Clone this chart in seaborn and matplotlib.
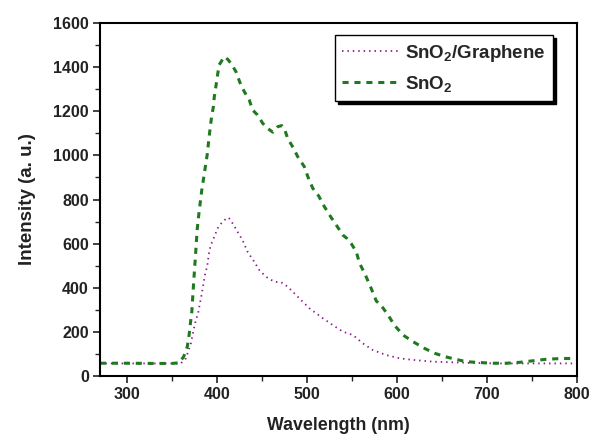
import matplotlib
matplotlib.use("Agg")
import matplotlib.pyplot as plt
import seaborn as sns
import pandas as pd
from matplotlib.ticker import MultipleLocator

# SnO2 (green dashed)
sno2_x = [270, 300, 330, 350, 358, 363, 367, 369, 370.5, 372, 374, 376, 378, 380, 383, 386,
          389, 392, 394, 396, 397, 399, 400.6, 402.4, 408, 412, 415.5, 421, 425.5, 430.3,
          435.9, 439.5, 445, 450.7, 456, 462, 467.4, 472, 475, 478.5, 484.5, 489.7, 497,
          501, 506.4, 513, 519.4, 526.8, 534.2, 539.8, 544, 549, 554.7, 558.4, 564, 570,
          577, 582, 590, 597, 606.6, 617.7, 630.7, 642, 653, 666, 677, 692, 707, 722, 736,
          751, 766, 781, 800]
sno2_y = [58, 58, 57, 57, 60, 88, 133, 186, 240, 290, 420, 540, 665, 740, 840, 920,
          1000, 1110, 1175, 1221, 1266, 1319, 1364, 1410, 1447, 1435, 1417, 1380, 1330, 1289,
          1251, 1206, 1183, 1146, 1123, 1105, 1130, 1135, 1120, 1077, 1036, 994, 949,
          903, 851, 816, 767, 719, 674, 639, 625, 601, 564, 511, 466, 410,
          340, 322, 277, 231, 186, 156, 125, 103, 88, 75, 65, 61, 58, 58, 62,
          69, 76, 79, 80]

# SnO2/Graphene (purple dotted)
sg_x = [270, 300, 340, 355, 360, 365.4, 371, 374, 376.5, 379, 381, 383.2, 385, 387, 389,
        391.3, 393.2, 397, 400.6, 406, 410, 413, 417.3, 422.8, 428.4, 434, 441.4, 447,
        454.4, 463.7, 471.2, 478.5, 491.5, 502.7, 517.5, 528.6, 539.8, 551, 562, 573,
        588, 603, 618, 640, 677, 714, 751, 800]
sg_y = [57, 57, 57, 57, 58, 80, 148, 209, 254, 284, 329, 375, 420, 466, 495,
        563, 594, 631, 669, 699, 712, 718, 692, 654, 616, 563, 518, 480,
        450, 427, 425, 405, 352, 307, 262, 231, 201, 186, 148, 118,
        95, 80, 73, 65, 60, 57, 57, 57]

x_ticks = [300, 400, 500, 600, 700, 800]
y_ticks = [0, 200, 400, 600, 800, 1000, 1200, 1400, 1600]

sns.set_theme(style="ticks")
plt.rcParams['font.family'] = ['Liberation Sans', 'DejaVu Sans']
plt.rcParams['font.weight'] = 'bold'
plt.rcParams['mathtext.fontset'] = 'custom'
plt.rcParams['mathtext.rm'] = 'Liberation Sans:bold'
plt.rcParams['mathtext.bf'] = 'Liberation Sans:bold'
plt.rcParams['mathtext.it'] = 'Liberation Sans:bold'
plt.rcParams['mathtext.default'] = 'bf'

fig = plt.figure(figsize=(5.91, 4.34), dpi=100)
ax = fig.add_axes([0.1692, 0.1336, 0.8071, 0.8134])

df_sg = pd.DataFrame({"x": sg_x, "y": sg_y})
df_s = pd.DataFrame({"x": sno2_x, "y": sno2_y})

sns.lineplot(data=df_sg, x="x", y="y", ax=ax, color="#8a1a8a", linewidth=1.3,
             label="SnO$_2$/Graphene", sort=False)
sns.lineplot(data=df_s, x="x", y="y", ax=ax, color="#1f7a1f", linewidth=2.2,
             label="SnO$_2$", sort=False)
ax.lines[0].set_dashes([0.8, 2.2])
ax.lines[1].set_dashes([2.0, 1.9])

ax.set_xlim(270, 800)
ax.set_ylim(0, 1600)
ax.set_xticks(x_ticks)
ax.set_yticks(y_ticks)
ax.xaxis.set_minor_locator(MultipleLocator(50))
ax.yaxis.set_minor_locator(MultipleLocator(100))
ax.tick_params(which='major', direction='out', length=5, width=1.2, labelsize=11.5,
               top=False, right=False, pad=3, colors='#222222')
ax.tick_params(which='minor', direction='out', length=3.5, width=1.0, top=False, right=False)
for lab in ax.get_xticklabels() + ax.get_yticklabels():
    lab.set_fontweight('bold')
for sp in ax.spines.values():
    sp.set_linewidth(1.5)
    sp.set_color('black')
    sp.set_visible(True)

ax.set_xlabel("Wavelength (nm)", fontsize=12.8, fontweight='bold', labelpad=11, color='#222222')
ax.set_ylabel("Intensity (a. u.)", fontsize=13.5, fontweight='bold', labelpad=12, color='#222222')

leg = ax.legend(loc='upper right', bbox_to_anchor=(0.950, 0.966), fontsize=13.5,
                frameon=True, fancybox=False, shadow={'color': 'black', 'alpha': 1},
                handlelength=3.0, handletextpad=0.35, borderpad=0.4, labelspacing=0.55,
                borderaxespad=0)
leg.get_frame().set_edgecolor('black')
leg.get_frame().set_linewidth(1.0)
leg.get_frame().set_alpha(1)

fig.savefig("out.png", dpi=100)
